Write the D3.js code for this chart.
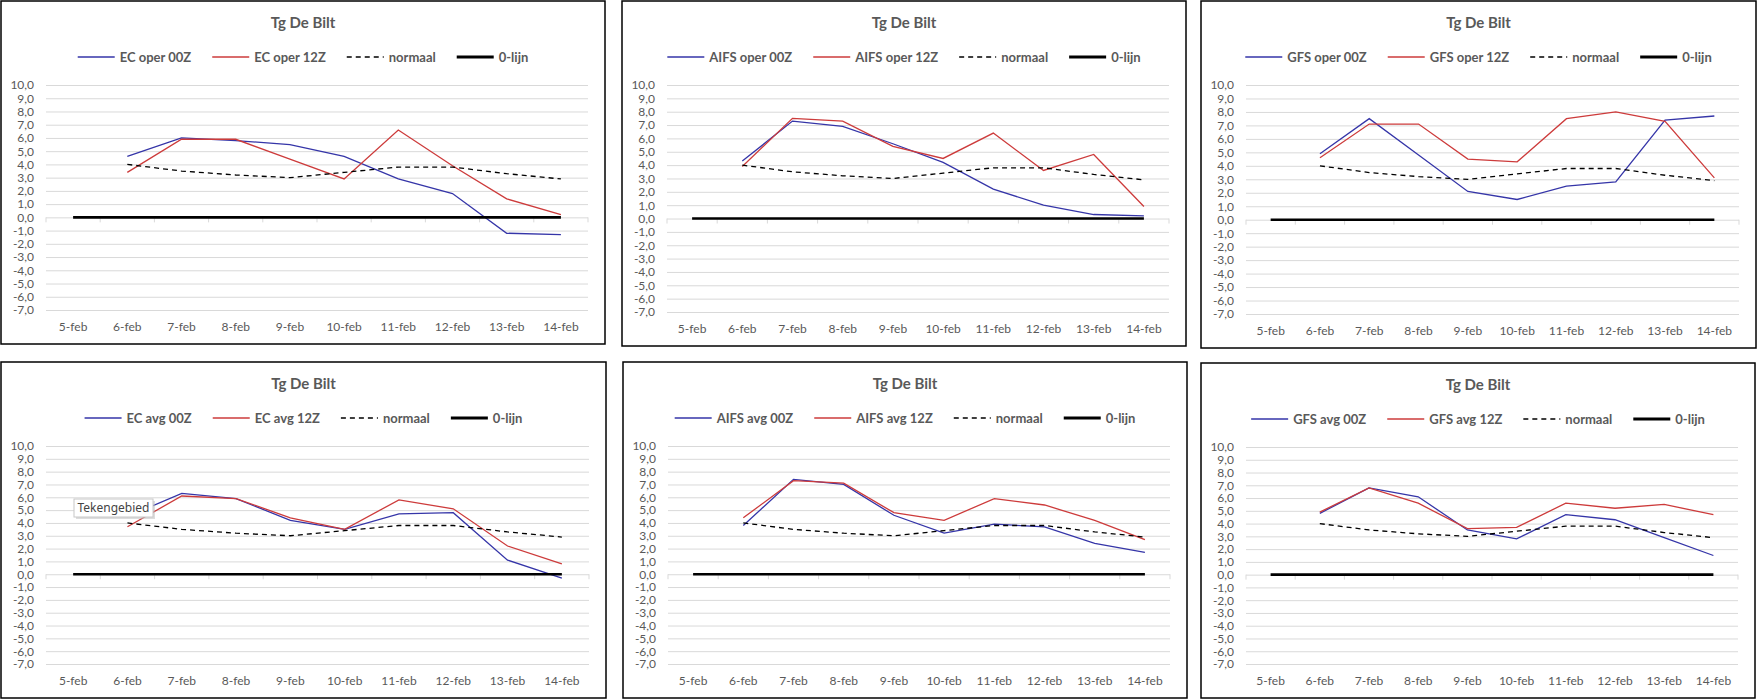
<!DOCTYPE html>
<html>
<head>
<meta charset="utf-8">
<script src="https://cdn.jsdelivr.net/npm/d3@7"></script>
<style>
  body { margin: 0; background: #fff; }
  svg { display: block; }
</style>
</head>
<body>
<script>
// Categorieën (datums) en waarden voor de y-as
var datums = ["5-feb", "6-feb", "7-feb", "8-feb", "9-feb", "10-feb", "11-feb", "12-feb", "13-feb", "14-feb"];
var yWaarden = [10, 9, 8, 7, 6, 5, 4, 3, 2, 1, 0, -1, -2, -3, -4, -5, -6, -7];

// Normaal en 0-lijn (zelfde in alle grafieken)
var normaal = [null, 4.0, 3.5, 3.2, 3.0, 3.4, 3.8, 3.8, 3.3, 2.9];
var nulLijn = [0, 0, 0, 0, 0, 0, 0, 0, 0, 0];

// Operationele runs
var ecOper00   = [null, 4.6, 6.0, 5.8, 5.5, 4.6, 2.9, 1.8, -1.2, -1.3];
var ecOper12   = [null, 3.4, 5.9, 5.9, 4.4, 2.9, 6.6, 3.9, 1.4, 0.2];
var aifsOper00 = [null, 4.3, 7.3, 6.9, 5.6, 4.2, 2.2, 1.0, 0.3, 0.2];
var aifsOper12 = [null, 3.9, 7.5, 7.3, 5.4, 4.5, 6.4, 3.6, 4.8, 0.9];
var gfsOper00  = [null, 4.9, 7.5, 4.8, 2.1, 1.5, 2.5, 2.8, 7.4, 7.7];
var gfsOper12  = [null, 4.6, 7.1, 7.1, 4.5, 4.3, 7.5, 8.0, 7.3, 3.1];

// Ensemble gemiddelden
var ecAvg00   = [null, 4.5, 6.3, 5.9, 4.2, 3.5, 4.7, 4.8, 1.1, -0.3];
var ecAvg12   = [null, 3.7, 6.1, 5.9, 4.4, 3.5, 5.8, 5.1, 2.2, 0.8];
var aifsAvg00 = [null, 3.8, 7.4, 7.0, 4.6, 3.2, 3.9, 3.7, 2.4, 1.7];
var aifsAvg12 = [null, 4.4, 7.3, 7.1, 4.8, 4.2, 5.9, 5.4, 4.2, 2.7];
var gfsAvg00  = [null, 4.8, 6.8, 6.1, 3.5, 2.8, 4.7, 4.3, 2.9, 1.5];
var gfsAvg12  = [null, 4.9, 6.8, 5.6, 3.6, 3.7, 5.6, 5.2, 5.5, 4.7];

var tekst = "Lato, 'Open Sans', sans-serif";
var grijs = "#595959";
var blauw = "#3535a8";
var rood = "#cd3b3b";

var nlFormat = d3.formatLocale({decimal: ",", thousands: ".", grouping: [3], currency: ["€", ""], minus: "-"}).format(".1f");

// Panelen: plaats op de pagina + welke reeksen
var panelen = [
  {x: 1,    y: 1,   w: 604, h: 343, a: "EC oper 00Z",   b: "EC oper 12Z",   da: ecOper00,   db: ecOper12},
  {x: 622,  y: 1,   w: 564, h: 345, a: "AIFS oper 00Z", b: "AIFS oper 12Z", da: aifsOper00, db: aifsOper12},
  {x: 1201, y: 1,   w: 555, h: 347, a: "GFS oper 00Z",  b: "GFS oper 12Z",  da: gfsOper00,  db: gfsOper12},
  {x: 1,    y: 362, w: 605, h: 336, a: "EC avg 00Z",    b: "EC avg 12Z",    da: ecAvg00,    db: ecAvg12},
  {x: 623,  y: 362, w: 564, h: 336, a: "AIFS avg 00Z",  b: "AIFS avg 12Z",  da: aifsAvg00,  db: aifsAvg12},
  {x: 1201, y: 363, w: 554, h: 335, a: "GFS avg 00Z",   b: "GFS avg 12Z",   da: gfsAvg00,   db: gfsAvg12}
];

var svg = d3.select("body").append("svg")
    .attr("width", 1758)
    .attr("height", 699);

svg.append("rect").attr("width", 1758).attr("height", 699).attr("fill", "#fff");

function tekenPaneel(p) {
    var g = svg.append("g");

    g.append("rect")
        .attr("x", p.x).attr("y", p.y)
        .attr("width", p.w).attr("height", p.h)
        .attr("fill", "#fff")
        .attr("stroke", "#000")
        .attr("stroke-width", 1.5);

    var left = p.x + 45, right = p.x + p.w - 17;
    var top = p.y + 84, bottom = p.y + p.h - 34;

    var x = d3.scaleBand().domain(datums).range([left, right]);
    var y = d3.scaleLinear().domain([-7, 10]).range([bottom, top]);
    var midden = function (i) { return x(datums[i]) + x.bandwidth() / 2; };

    // Titel
    g.append("text")
        .attr("x", p.x + p.w / 2).attr("y", p.y + 27)
        .attr("text-anchor", "middle")
        .attr("fill", grijs)
        .style("font", "bold 15px " + tekst)
        .text("Tg De Bilt");

    // Rasterlijnen en y-labels
    var yAs = g.append("g")
        .attr("transform", "translate(" + left + ",0)")
        .call(d3.axisLeft(y).tickValues(yWaarden).tickSize(-(right - left)).tickPadding(12).tickFormat(nlFormat));
    yAs.select(".domain").remove();
    yAs.selectAll("line").attr("stroke", "#d9d9d9");
    yAs.selectAll("text").attr("fill", grijs).style("font", "12px " + tekst);

    // Categorie-as bij 0 met streepjes tussen de datums
    g.selectAll(".streep")
        .data(d3.range(datums.length + 1))
        .enter().append("line")
        .attr("x1", function (i) { return left + i * x.step(); })
        .attr("x2", function (i) { return left + i * x.step(); })
        .attr("y1", y(0)).attr("y2", y(0) + 5)
        .attr("stroke", "#d9d9d9");

    // x-labels onderaan
    var xAs = g.append("g")
        .attr("transform", "translate(0," + (bottom + 17) + ")")
        .call(d3.axisBottom(x).tickSize(0).tickPadding(0));
    xAs.select(".domain").remove();
    xAs.selectAll("text").attr("y", 0).attr("dy", "0.35em").attr("fill", grijs).style("font", "12px " + tekst);

    var lijn = d3.line()
        .defined(function (d) { return d != null; })
        .x(function (d, i) { return midden(i); })
        .y(function (d) { return y(d); });

    var reeksen = [
        {naam: p.a, data: p.da, kleur: blauw, breedte: 1.3, dash: null},
        {naam: p.b, data: p.db, kleur: rood, breedte: 1.3, dash: null},
        {naam: "normaal", data: normaal, kleur: "#000", breedte: 1.3, dash: "5,4"},
        {naam: "0-lijn", data: nulLijn, kleur: "#000", breedte: 2.6, dash: null}
    ];

    reeksen.forEach(function (r) {
        g.append("path")
            .datum(r.data)
            .attr("d", lijn)
            .attr("fill", "none")
            .attr("stroke", r.kleur)
            .attr("stroke-width", r.breedte)
            .attr("stroke-dasharray", r.dash);
    });

    // Legenda boven de grafiek, gecentreerd
    var leg = g.append("g");
    var pos = 0;
    reeksen.forEach(function (r, i) {
        var item = leg.append("g").attr("transform", "translate(" + pos + ",0)");
        item.append("line")
            .attr("x1", 0).attr("x2", 37)
            .attr("y1", 0).attr("y2", 0)
            .attr("stroke", r.kleur)
            .attr("stroke-width", r.naam === "0-lijn" ? 3 : 1.5)
            .attr("stroke-dasharray", r.dash);
        var t = item.append("text")
            .attr("x", 42).attr("y", 0).attr("dy", "0.35em")
            .attr("fill", grijs)
            .style("font", "bold 13px " + tekst)
            .text(r.naam);
        pos += 42 + t.node().getComputedTextLength() + 21;
    });
    var legBreedte = pos - 21;
    leg.attr("transform", "translate(" + (p.x + p.w / 2 - legBreedte / 2) + "," + (p.y + 56) + ")");

    return g;
}

var grafieken = panelen.map(tekenPaneel);

// Tooltip "Tekengebied" in het paneel linksonder
var tip = grafieken[3].append("g").attr("transform", "translate(" + (panelen[3].x + 73) + "," + (panelen[3].y + 137) + ")");
tip.append("rect")
    .attr("x", 2).attr("y", 2).attr("width", 79).attr("height", 18)
    .attr("fill", "#bbb").attr("opacity", 0.5);
tip.append("rect")
    .attr("width", 79).attr("height", 18)
    .attr("fill", "#fff").attr("stroke", "#c8c8c8");
tip.append("text")
    .attr("x", 39.5).attr("y", 9).attr("dy", "0.35em")
    .attr("text-anchor", "middle")
    .attr("fill", "#444")
    .style("font", "12px 'Noto Sans', sans-serif")
    .text("Tekengebied");
</script>
</body>
</html>
